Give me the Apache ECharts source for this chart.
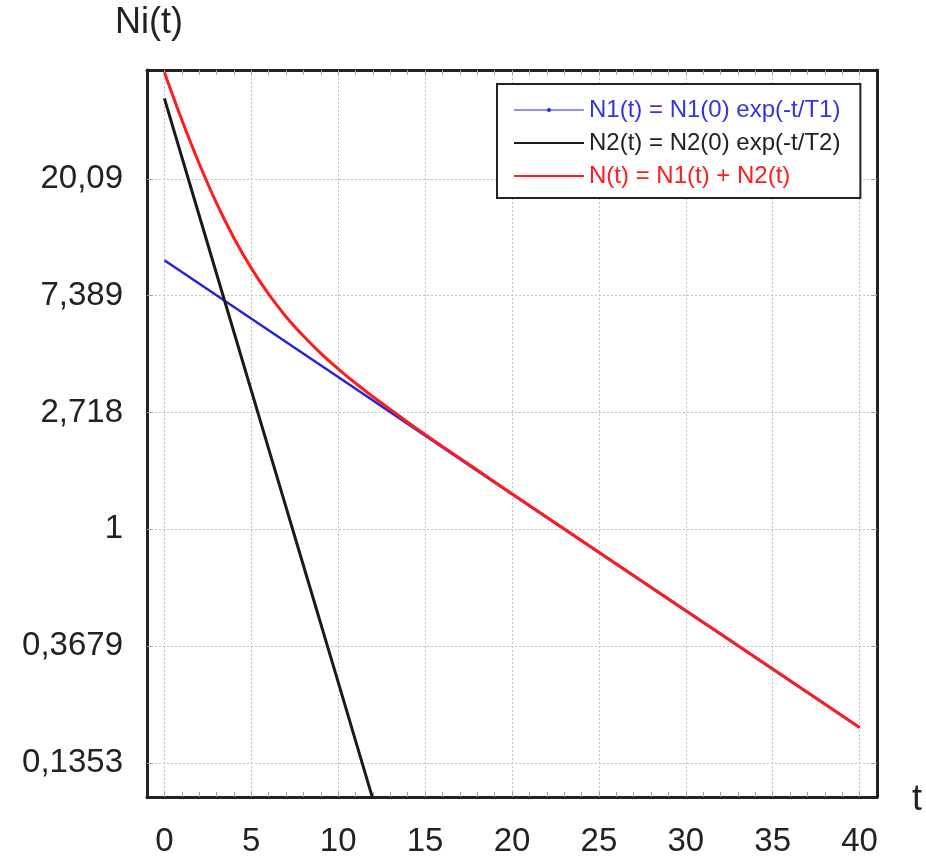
<!DOCTYPE html>
<html>
<head>
<meta charset="utf-8">
<title>Ni(t)</title>
<script src="https://cdn.jsdelivr.net/npm/echarts@6/dist/echarts.min.js"></script>
<style>
  html, body { margin: 0; padding: 0; background: #fff; }
  #chart { width: 926px; height: 858px; }
</style>
</head>
<body>
<div id="chart"></div>
<script>
// valeurs (échelle log en y)
var n1Times = [0, 10, 20, 30, 40];
var n1Values = [10, 3.68, 1.35, 0.498, 0.183];

var n2Times = [0, 2, 4, 6, 8, 10, 12];
var n2Values = [40, 14.7, 5.41, 1.99, 0.733, 0.27, 0.099];

var nTimes = [0, 1, 2, 3, 4, 5, 6, 7, 8, 9, 10, 11, 12, 13, 14, 15, 16, 18, 20, 25, 30, 35, 40];
var nValues = [50, 33.3, 22.9, 16.3, 12.1, 9.35, 7.48, 6.17, 5.23, 4.51, 3.95, 3.49, 3.11, 2.79, 2.5, 2.25, 2.03, 1.66, 1.355, 0.821, 0.498, 0.302, 0.183];

var xTicks = [0, 5, 10, 15, 20, 25, 30, 35, 40];
var xMinorTicks = [];
for (var k = 0; k <= 40; k++) xMinorTicks.push(k);
var yTicks = [0.1353, 0.3679, 1, 2.718, 7.389, 20.09];

var names = [
  'N1(t) = N1(0) exp(-t/T1)',
  'N2(t) = N2(0) exp(-t/T2)',
  'N(t) = N1(t) + N2(t)'
];

var FONT = '"Liberation Sans", Arial, sans-serif';
var BLUE = '#2424e0';
var BLACK = '#1a1a1a';
var RED = '#ff1c1c';

function pairs(xs, ys) {
  var out = [];
  for (var i = 0; i < xs.length; i++) out.push([xs[i], ys[i]]);
  return out;
}

// 20.0855 -> "20,09"
function fmtY(v) {
  return String(Number(Number(v).toPrecision(4))).replace('.', ',');
}

var chart = echarts.init(document.getElementById('chart'));

var frameLine = { show: true, onZero: false, lineStyle: { color: '#222', width: 3 } };
var gridLine = { show: true, lineStyle: { color: '#c4c4c4', type: [2, 2], width: 1 } };
var minorTick = { color: '#a0a0a0', width: 1 };

var option = {
  backgroundColor: '#fff',
  animation: false,
  textStyle: { fontFamily: FONT },
  title: [
    { text: 'Ni(t)', left: 115, top: 5, padding: 0,
      textStyle: { fontSize: 36, fontWeight: 'normal', color: '#222', fontFamily: FONT } },
    { text: 't', left: 912, top: 782, padding: 0,
      textStyle: { fontSize: 36, fontWeight: 'normal', color: '#222', fontFamily: FONT } }
  ],
  grid: { left: 147, right: 49, top: 70, bottom: 58, containLabel: false },
  legend: {
    orient: 'vertical',
    left: 497,
    top: 84,
    padding: [14, 20, 10, 16],
    itemGap: 9,
    itemWidth: 70,
    itemHeight: 5,
    borderColor: '#222',
    borderWidth: 2,
    backgroundColor: '#fff',
    textStyle: { fontSize: 24, fontFamily: FONT },
    data: [
      { name: names[0], textStyle: { color: '#3434e4' }, lineStyle: { width: 1 } },
      { name: names[1], textStyle: { color: '#222' }, itemStyle: { opacity: 0 } },
      { name: names[2], textStyle: { color: RED }, itemStyle: { opacity: 0 } }
    ]
  },
  xAxis: [
    {
      type: 'value', position: 'bottom', min: -1, max: 41,
      axisLine: frameLine,
      axisTick: { show: true, inside: true, length: 5, customValues: xMinorTicks, lineStyle: minorTick },
      axisLabel: { show: true, customValues: xTicks, fontSize: 33, color: '#222', margin: 28,
        fontFamily: FONT },
      splitLine: { show: false }
    },
    {
      type: 'value', position: 'top', min: -1, max: 41,
      axisLine: frameLine,
      axisTick: { show: true, inside: true, length: 5, customValues: xMinorTicks, lineStyle: minorTick },
      axisLabel: { show: false },
      splitLine: { show: false }
    },
    {
      // lignes de grille verticales tous les 5
      type: 'value', position: 'bottom', min: -1, max: 41,
      axisLine: { show: false },
      axisTick: { show: false, customValues: xTicks },
      axisLabel: { show: false, customValues: xTicks },
      splitLine: gridLine
    }
  ],
  yAxis: [
    {
      type: 'log', logBase: Math.E, position: 'left', min: 0.101, max: 51,
      axisLine: frameLine,
      axisTick: { show: true, inside: true, length: 6, customValues: yTicks, lineStyle: minorTick },
      axisLabel: { show: true, customValues: yTicks, fontSize: 33, color: '#222', margin: 24,
        fontFamily: FONT, formatter: fmtY },
      splitLine: gridLine
    },
    {
      type: 'log', logBase: Math.E, position: 'right', min: 0.101, max: 51,
      axisLine: frameLine,
      axisTick: { show: true, inside: true, length: 6, customValues: yTicks, lineStyle: minorTick },
      axisLabel: { show: false },
      splitLine: { show: false }
    }
  ],
  series: [
    {
      name: names[0], type: 'line', xAxisIndex: 0, yAxisIndex: 0,
      data: pairs(n1Times, n1Values),
      symbol: 'circle', symbolSize: 4, showSymbol: false,
      itemStyle: { color: BLUE },
      lineStyle: { color: BLUE, width: 2.5 }
    },
    {
      name: names[1], type: 'line', xAxisIndex: 0, yAxisIndex: 0,
      data: pairs(n2Times, n2Values),
      symbol: 'none',
      itemStyle: { color: BLACK },
      lineStyle: { color: BLACK, width: 3 }
    },
    {
      name: names[2], type: 'line', xAxisIndex: 0, yAxisIndex: 0,
      data: pairs(nTimes, nValues),
      symbol: 'none', smooth: 0.4,
      itemStyle: { color: RED },
      lineStyle: { color: RED, width: 3 }
    }
  ]
};

chart.setOption(option);
</script>
</body>
</html>
